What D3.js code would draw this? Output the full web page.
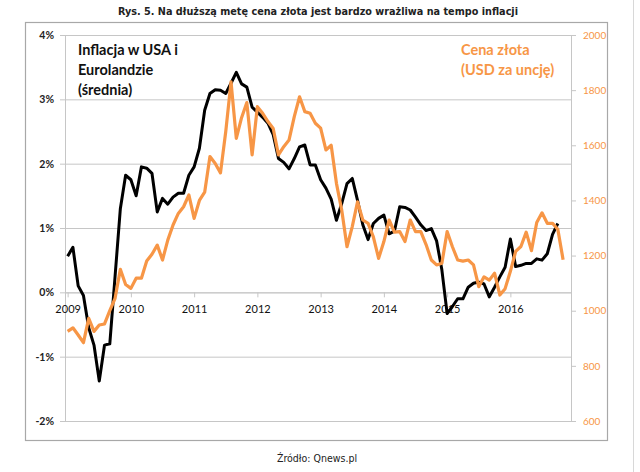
<!DOCTYPE html>
<html><head><meta charset="utf-8">
<script src="https://cdn.jsdelivr.net/npm/d3@7"></script>
<style>body{margin:0;background:#fff}svg{display:block}</style>
</head><body><svg id="c" width="640" height="472"></svg>
<script>
// Monthly series starting January 2009
const inflation = [
0.56,0.70,0.10,-0.05,-0.55,-0.82,-1.38,-0.82,-0.80,0.25,
1.30,1.82,1.75,1.50,1.95,1.93,1.85,1.25,1.46,1.37,
1.48,1.54,1.54,1.82,1.95,2.24,2.83,3.09,3.15,3.14,
3.09,3.25,3.42,3.24,3.19,2.88,2.80,2.72,2.63,2.45,
2.08,2.02,1.92,2.08,2.26,2.29,1.98,1.98,1.75,1.62,
1.45,1.12,1.38,1.69,1.77,1.43,1.05,0.82,1.07,1.15,
1.20,0.91,0.95,1.33,1.32,1.28,1.17,1.05,0.96,0.99,
0.80,0.35,-0.33,-0.22,-0.10,-0.10,0.08,0.14,0.16,0.13,
-0.07,0.08,0.24,0.39,0.83,0.40,0.42,0.45,0.45,0.52,
0.50,0.60,0.90,1.07];
const gold = [
925,938,912,884,972,925,948,952,1000,1045,
1150,1095,1081,1118,1118,1180,1205,1238,1184,1256,
1311,1353,1377,1420,1335,1400,1430,1559,1534,1500,
1650,1830,1625,1700,1755,1565,1740,1716,1686,1661,
1565,1595,1619,1704,1776,1722,1716,1680,1662,1583,
1600,1462,1365,1232,1305,1395,1329,1317,1268,1190,
1251,1329,1285,1287,1251,1329,1287,1287,1240,1184,
1166,1172,1287,1232,1184,1180,1184,1166,1087,1123,
1111,1136,1057,1080,1143,1215,1233,1285,1218,1320,
1355,1317,1317,1295,1185];
const leftTicks = [4,3,2,1,0,-1,-2];
const rightTicks = [2000,1800,1600,1400,1200,1000,800,600];
const yearLabels = ["2009","2010","2011","2012","2013","2014","2015","2016"];
const title = "Rys. 5. Na dłuższą metę cena złota jest bardzo wrażliwa na tempo inflacji";
const source = "Źródło: Qnews.pl";
const leftLegend = ["Inflacja w USA i","Eurolandzie","(średnia)"];
const rightLegend = ["Cena złota","(USD za uncję)"];

const ORANGE = "#F79646";
const GRID = "#c6c6c6";
const svg = d3.select("#c");

const x = d3.scaleLinear().domain([-0.5, 95.5]).range([65, 571]);
const yL = d3.scaleLinear().domain([-2, 4]).range([421, 35]);
const yR = d3.scaleLinear().domain([600, 2000]).range([421, 35]);

// title
svg.append("text").attr("x", 318).attr("y", 15).attr("text-anchor", "middle")
  .attr("font-family", "DejaVu Sans Condensed, DejaVu Sans").attr("font-weight", "bold")
  .attr("font-size", 10.5).attr("textLength", 400).attr("lengthAdjust", "spacingAndGlyphs")
  .attr("fill", "#222").text(title);

// frame
svg.append("rect").attr("x", 25.5).attr("y", 22.5).attr("width", 582).attr("height", 418)
  .attr("fill", "#fff").attr("stroke", "#a8a8a8").attr("stroke-width", 1.2);
svg.append("line").attr("x1", 633.5).attr("x2", 633.5).attr("y1", 0).attr("y2", 472)
  .attr("stroke", "#d8d8d8").attr("stroke-width", 1);

// left axis with gridlines
const gL = svg.append("g").attr("transform", "translate(65,0)")
  .call(d3.axisLeft(yL).tickValues(leftTicks).tickSize(-506).tickSizeOuter(0)
    .tickFormat(d => d + "%").tickPadding(11));
gL.select(".domain").attr("stroke", GRID);
gL.selectAll(".tick line").attr("stroke", GRID).attr("x1", -5);
gL.selectAll(".tick text").attr("font-family", "Lato").attr("font-weight", "bold")
  .attr("font-size", 10.5).attr("fill", "#222");

// right axis
const gR = svg.append("g").attr("transform", "translate(571,0)")
  .call(d3.axisRight(yR).tickValues(rightTicks).tickSize(5).tickSizeOuter(0)
    .tickFormat(d3.format("d")).tickPadding(7));
gR.select(".domain").attr("stroke", GRID);
gR.selectAll(".tick line").attr("stroke", GRID);
gR.selectAll(".tick text").attr("font-family", "Lato").attr("font-size", 10)
  .attr("fill", ORANGE);

// category axis at 0%
const yearIdx = yearLabels.map((d, k) => k * 12);
const gX = svg.append("g").attr("transform", `translate(0,${yL(0)})`)
  .call(d3.axisBottom(x).tickValues(yearIdx).tickSize(5).tickSizeOuter(0)
    .tickFormat((d, k) => yearLabels[k]).tickPadding(8));
gX.select(".domain").attr("stroke", GRID);
gX.selectAll(".tick line").attr("stroke", GRID);
gX.selectAll(".tick text").attr("font-family", "Lato").attr("font-size", 11).attr("fill", "#111");

// lines
const lineL = d3.line().x((d, i) => x(i)).y(d => yL(d)).curve(d3.curveLinear);
const lineR = d3.line().x((d, i) => x(i)).y(d => yR(d)).curve(d3.curveLinear);
svg.append("path").datum(inflation).attr("d", lineL).attr("fill", "none")
  .attr("stroke", "#000").attr("stroke-width", 3).attr("stroke-linejoin", "round");
svg.append("path").datum(gold).attr("d", lineR).attr("fill", "none")
  .attr("stroke", ORANGE).attr("stroke-width", 3.2).attr("stroke-linejoin", "round");

// legends
svg.append("g").selectAll("text").data(leftLegend).join("text")
  .attr("x", 78).attr("y", (d, i) => 55 + i * 20)
  .attr("font-family", "Lato").attr("font-weight", "bold").attr("font-size", 14.5)
  .attr("fill", "#111").text(d => d);
svg.append("g").selectAll("text").data(rightLegend).join("text")
  .attr("x", 461).attr("y", (d, i) => 55 + i * 20)
  .attr("font-family", "Lato").attr("font-weight", "bold").attr("font-size", 14.5)
  .attr("fill", ORANGE).text(d => d);

// source
svg.append("text").attr("x", 317).attr("y", 462).attr("text-anchor", "middle")
  .attr("font-family", "DejaVu Sans Condensed, DejaVu Sans").attr("font-size", 10.5)
  .attr("fill", "#222").text(source);
</script>
</body></html>
